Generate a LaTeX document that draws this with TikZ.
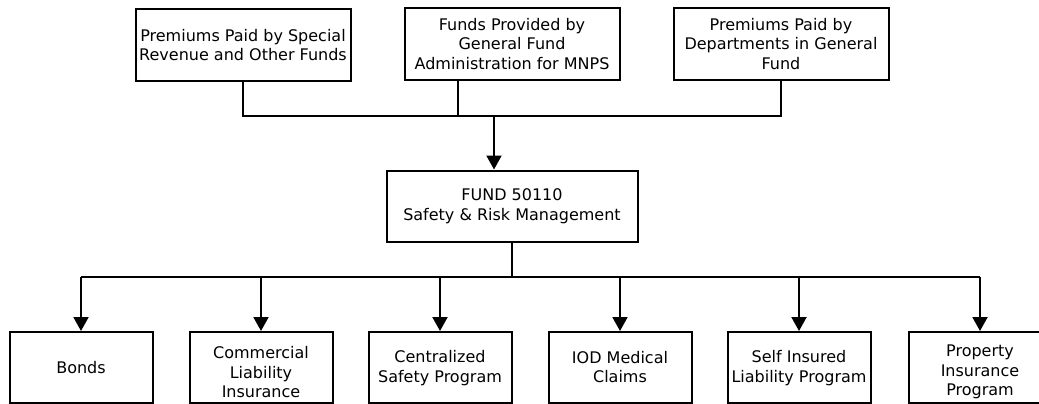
\documentclass[tikz,border=0pt]{standalone}
\usepackage{fontspec}
\setmainfont{DejaVu Sans}
\usetikzlibrary{arrows.meta}
\begin{document}
\begin{tikzpicture}[x=1pt,y=-1pt,
  label text/.style={align=center,inner sep=0pt,
    font=\fontsize{16}{19.5}\selectfont},
  box/.style={draw,line width=2pt,label text},
  topbox/.style={box,minimum width=215pt,minimum height=72pt},
  mainbox/.style={box,minimum width=251pt,minimum height=71pt},
  leafbox/.style={box,minimum width=143pt,minimum height=71pt},
  link/.style={line width=2pt},
  feed/.style={link,-{Triangle[length=14pt,width=15pt]}}]
\useasboundingbox (0,0) rectangle (1039,404);
\fill[white] (0,0) rectangle (1039,404);

% sources
\node[topbox] (src1) at (243,45) {Premiums Paid by Special\\Revenue and Other Funds};
\node[topbox] (src2) at (512,44) {Funds Provided by\\General Fund\\Administration for MNPS};
\node[topbox] (src3) at (781,44) {Premiums Paid by\\Departments in General\\Fund};

% fund
\node[mainbox] (fund) at (512,206) {FUND 50110\\Safety \& Risk Management};

% programs: frames first, their captions set inside
\node[leafbox] (p1) at (81,367.5) {};
\node[leafbox] (p2) at (261,367.5) {};
\node[leafbox] (p3) at (440,367.5) {};
\node[leafbox] (p4) at (620,367.5) {};
\node[leafbox] (p5) at (799,367.5) {};
\node[leafbox] (p6) at (980,367.5) {};
\node[label text] (p1t) at (81,367.5) {Bonds};
\node[label text] (p2t) at (261,372.5) {Commercial\\Liability\\Insurance};
\node[label text] (p3t) at (440,368) {Centralized\\Safety Program};
\node[label text] (p4t) at (620,367) {IOD Medical\\Claims};
\node[label text] (p5t) at (799,368) {Self Insured\\Liability Program};
\node[label text] (p6t) at (980,372) {Property\\Insurance\\Program};

% collecting bus above the fund
\coordinate (busL) at (243,116);
\coordinate (busR) at (781,116);
\coordinate (s2) at (458,80);
\coordinate (join) at (494,116);
\draw[link] (src1.south -| busL) -- (busL) -- (busR) -- (src3.south -| busR);
\draw[link] (s2) -- (s2 |- busL);
\draw[feed] (join) -- (join |- fund.north);

% distribution bus below the fund
\coordinate (stem) at (512,277);
\draw[link] (fund.south -| stem) -- (stem);
\draw[link] (p1.north |- stem) -- (p6.north |- stem);
\foreach \p in {p1,p2,p3,p4,p5,p6}
  \draw[feed] (\p.north |- stem) -- (\p.north);
\end{tikzpicture}
\end{document}
